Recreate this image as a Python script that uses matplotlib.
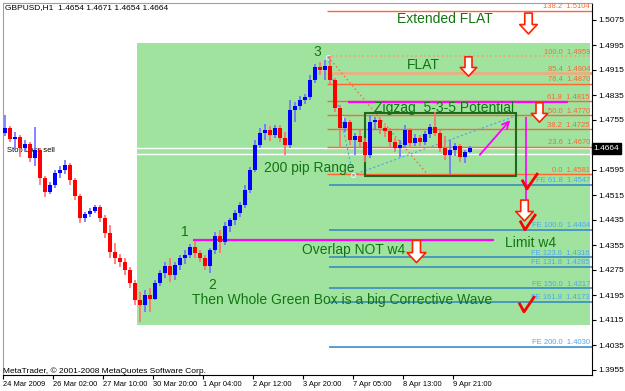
"""
GBPUSD H1 - wave count sketch (MetaTrader style screenshot)
"""

import numpy as np
import matplotlib
matplotlib.use("Agg")
import matplotlib.pyplot as plt
from matplotlib.path import Path
from matplotlib.patches import Rectangle
from matplotlib.transforms import blended_transform_factory

# ── DATA: price bars (each slot ~3 hours) ──────────────────────────────────
first_open = 1.4713
closes = [1.4729, 1.4694, 1.4701, 1.4665, 1.4678, 1.4633, 1.4659, 1.4569, 1.4525, 1.4547,
          1.4585, 1.4595, 1.4611, 1.4563, 1.4512, 1.4441, 1.4454, 1.4464, 1.4477, 1.4441,
          1.4393, 1.4333, 1.4313, 1.4301, 1.4275, 1.4233, 1.4179, 1.4163, 1.4195, 1.4182,
          1.4233, 1.4265, 1.4288, 1.4259, 1.4291, 1.4313, 1.4323, 1.4349, 1.4329, 1.4313,
          1.4288, 1.4339, 1.4384, 1.4365, 1.4416, 1.4435, 1.4457, 1.4483, 1.4531, 1.4595,
          1.4675, 1.4713, 1.4723, 1.4707, 1.4729, 1.4697, 1.4675, 1.4787, 1.4800, 1.4819,
          1.4829, 1.4883, 1.4925, 1.4915, 1.4928, 1.4883, 1.4793, 1.4729, 1.4749, 1.4691,
          1.4704, 1.4685, 1.4643, 1.4749, 1.4755, 1.4729, 1.4720, 1.4685, 1.4665, 1.4675,
          1.4723, 1.4681, 1.4697, 1.4685, 1.4710, 1.4733, 1.4713, 1.4665, 1.4643, 1.4659,
          1.4672, 1.4637, 1.4653, 1.4664]
highs = [1.4771, 1.4736, 1.4717, 1.4707, 1.4691, 1.4685, 1.4733, 1.4665, 1.4576, 1.4557,
         1.4595, 1.4608, 1.4627, 1.4617, 1.4569, 1.4518, 1.4461, 1.4473, 1.4483, 1.4483,
         1.4451, 1.4419, 1.4361, 1.4326, 1.4313, 1.4285, 1.4243, 1.4205, 1.4211, 1.4217,
         1.4243, 1.4275, 1.4301, 1.4313, 1.4301, 1.4323, 1.4339, 1.4358, 1.4368, 1.4339,
         1.4323, 1.4345, 1.4397, 1.4403, 1.4429, 1.4441, 1.4467, 1.4493, 1.4547, 1.4605,
         1.4691, 1.4729, 1.4742, 1.4736, 1.4739, 1.4739, 1.4717, 1.4819, 1.4813, 1.4832,
         1.4838, 1.4899, 1.4934, 1.4941, 1.4947, 1.4959, 1.4889, 1.4803, 1.4761, 1.4755,
         1.4713, 1.4723, 1.4697, 1.4771, 1.4765, 1.4761, 1.4736, 1.4729, 1.4697, 1.4691,
         1.4739, 1.4729, 1.4710, 1.4707, 1.4720, 1.4742, 1.4781, 1.4723, 1.4704, 1.4691,
         1.4681, 1.4678, 1.4659, 1.4671]
lows = [1.4704, 1.4685, 1.4659, 1.4637, 1.4653, 1.4621, 1.4608, 1.4547, 1.4509, 1.4518,
        1.4537, 1.4569, 1.4582, 1.4547, 1.4499, 1.4425, 1.4429, 1.4445, 1.4457, 1.4429,
        1.4377, 1.4313, 1.4294, 1.4285, 1.4259, 1.4217, 1.4163, 1.4109, 1.4141, 1.4141,
        1.4179, 1.4224, 1.4249, 1.4237, 1.4243, 1.4275, 1.4294, 1.4313, 1.4313, 1.4301,
        1.4275, 1.4265, 1.4326, 1.4329, 1.4355, 1.4397, 1.4419, 1.4445, 1.4473, 1.4521,
        1.4589, 1.4665, 1.4691, 1.4688, 1.4697, 1.4685, 1.4643, 1.4665, 1.4749, 1.4787,
        1.4806, 1.4819, 1.4873, 1.4899, 1.4883, 1.4870, 1.4781, 1.4665, 1.4717, 1.4675,
        1.4643, 1.4665, 1.4621, 1.4633, 1.4723, 1.4710, 1.4701, 1.4665, 1.4653, 1.4637,
        1.4665, 1.4665, 1.4672, 1.4672, 1.4675, 1.4697, 1.4704, 1.4653, 1.4627, 1.4581,
        1.4640, 1.4621, 1.4617, 1.4650]

time_labels = ["24 Mar 2009", "26 Mar 02:00", "27 Mar 10:00", "30 Mar 20:00",
               "1 Apr 04:00", "2 Apr 12:00", "3 Apr 20:00", "7 Apr 05:00",
               "8 Apr 13:00", "9 Apr 21:00"]
price_ticks = [1.3955, 1.4035, 1.4115, 1.4195, 1.4275, 1.4355, 1.4435, 1.4515,
               1.4595, 1.4675, 1.4755, 1.4835, 1.4915, 1.4995, 1.5075]

# Fibonacci retracement (wave 3 top -> low) and expansion levels
fib_levels = ["138.2", "100.0", "85.4", "76.4", "61.8", "50.0", "38.2", "23.6", "0.0"]
fib_prices = [1.5104, 1.4959, 1.4904, 1.4870, 1.4815, 1.4770, 1.4725, 1.4670, 1.4581]
fe_levels = ["61.8", "100.0", "123.6", "131.8", "150.0", "161.8", "200.0"]
fe_prices = [1.4547, 1.4404, 1.4316, 1.4285, 1.4217, 1.4173, 1.4030]

bid = 1.4664
stop_loss = 1.4646
overlap_w1 = 1.4371       # wave 1 high (magenta)
zigzag_top = 1.4814       # magenta line near 61.8
# ───────────────────────────────────────────────────────────────────────────

plt.rcParams.update({
    "font.family": "Liberation Sans",
    "font.size": 6,
    "axes.linewidth": 0.8,
})

GREEN_TXT = "#127512"
FIB_C = "#ff6633"
FE_C = "#2f84c4"
FE_TXT = "#4ea6f5"

fig = plt.figure(figsize=(6.25, 3.91), dpi=100)
ax = fig.add_axes([3 / 625, 16 / 391, 589 / 625, 372 / 391])
ax.set_xlim(-0.4, 117.4)
ax.set_ylim(1.3939, 1.51294)

# green "corrective" box
ax.add_patch(Rectangle((26.4, 1.4099), 117.0 - 26.4, 1.5001 - 1.4099,
                       facecolor="#9fe39f", edgecolor="none", zorder=0.5))

# bid / stop lines
ax.axhline(bid, color="white", lw=1.0, zorder=1)
ax.axhline(stop_loss, color="white", lw=1.0, zorder=1)

# fib retracement
fib_styles = [("-", 1.0, FIB_C), (":", 1.2, "#f0a070"), ("-", 2.0, "#e8b080"),
              ("-", 1.0, FIB_C), ("-", 1.0, FIB_C), ("-", 1.0, FIB_C),
              ("-", 1.0, FIB_C), ("-", 1.0, FIB_C), ("-", 1.0, FIB_C)]
for lvl, p, (ls, lw, c) in zip(fib_levels, fib_prices, fib_styles):
    ax.hlines(p, 64.4, 117.4, colors=c, linestyles=ls, lw=lw, zorder=2)
    ax.text(117.0, p + 0.0002, f"{lvl}  {p:.4f}", color=FIB_C, fontsize=5.5,
            ha="right", va="bottom", zorder=6)

# fib expansion
for lvl, p in zip(fe_levels, fe_prices):
    ax.hlines(p, 64.8, 117.4, colors=FE_C, lw=1.1, zorder=2)
    ax.text(117.0, p + 0.0002, f"FE {lvl}  {p:.4f}", color=FE_TXT, fontsize=5.5,
            ha="right", va="bottom", zorder=6)

# tool diagonals
ax.plot([64.6, 84.6], [1.4957, 1.4579], ls=(0, (1, 2)), color=FIB_C, lw=1, zorder=3)
ax.plot([64.6, 69.6, 101.6], [1.4957, 1.4579, 1.4765], ls=(0, (2, 2)),
        color="#5aa0e0", lw=0.8, zorder=3)
ax.plot([64.6, 67.3, 69.6], [1.4957, 1.4763, 1.4579], ls="none", marker="o",
        ms=3, mfc="none", mec="#e0f0ff", mew=0.8, zorder=3)

# magenta lines
ax.hlines(zigzag_top, 68.6, 112.6, colors="#ff00ff", lw=1.6, zorder=3)
ax.hlines(overlap_w1, 37.6, 97.8, colors="#ff00ff", lw=1.6, zorder=3)
ax.vlines(104.2, 1.4457, 1.4765, colors="#ff00ff", lw=1.2, zorder=3)
ax.annotate("", xy=(101.4, 1.4761), xytext=(94.6, 1.4637),
            arrowprops=dict(arrowstyle="->", color="#ff00ff", lw=1.3,
                            mutation_scale=12), zorder=3)

# zigzag box
ax.add_patch(Rectangle((72.0, 1.4576), 102.2 - 72.0, 1.4777 - 1.4576,
                       facecolor="none", edgecolor="#1d6a1d", lw=1.5, zorder=3))

ax.text(0.4, 1.4659, "Stop Loss sell", fontsize=5.5, color="black", va="center",
        zorder=3)

# candles
closes = np.array(closes)
opens = np.r_[first_open, closes[:-1]]
x = np.arange(len(closes))
up = closes >= opens
body_c = np.where(up, "#0000ff", "#ff0000")
wick_c = np.where(up, "#7070ff", "#ff7070")
ax.vlines(x, lows, highs, colors=wick_c, lw=1.2, zorder=4)
ax.bar(x, np.maximum(np.abs(closes - opens), 0.0005), bottom=np.minimum(opens, closes),
       width=0.95, color=body_c, lw=0, zorder=5)

# red outline arrows and check marks
arrow = Path([(-0.18, 0.5), (0.18, 0.5), (0.18, -0.05), (0.42, -0.05), (0.0, -0.5),
              (-0.42, -0.05), (-0.18, -0.05), (-0.18, 0.5)],
             [Path.MOVETO] + [Path.LINETO] * 6 + [Path.CLOSEPOLY])
for ax_x, ax_y, ms in [(104.6, 1.5065, 15), (92.6, 1.4928, 14), (106.8, 1.4781, 14),
                       (103.8, 1.4467, 15), (82.2, 1.4335, 16)]:
    ax.plot(ax_x, ax_y, marker=arrow, ms=ms, mfc="white", mec="#ff2000", mew=1.2,
            zorder=7)

check = Path([(-0.45, 0.05), (-0.15, -0.5), (0.5, 0.45)],
             [Path.MOVETO, Path.LINETO, Path.LINETO])
for cx, cy in [(104.8, 1.4562), (104.4, 1.4433), (104.2, 1.4170)]:
    ax.plot(cx, cy, marker=check, ms=12, mfc="none", mec="#ff0000", mew=2.0, zorder=7)

# wave labels and notes
notes = [("Extended FLAT", 88.0, 1.5078), ("FLAT", 83.6, 1.4931),
         ("Zigzag  5-3-5 Potential", 87.9, 1.4793), ("200 pip Range", 60.8, 1.4601),
         ("3", 62.4, 1.4973), ("1", 36.0, 1.4397), ("2", 41.4, 1.4227),
         ("Overlap NOT w4", 69.8, 1.4339), ("Limit w4", 105.2, 1.4361),
         ("Then Whole Green Box is a big Corrective Wave", 67.5, 1.4179)]
for txt, tx, ty in notes:
    ax.text(tx, ty, txt, color=GREEN_TXT, fontsize=10, ha="center", va="center",
            zorder=8)

# axes / ticks, MetaTrader style
ax.yaxis.tick_right()
ax.set_yticks(price_ticks)
# the 1.4675 label sits under the bid box
ax.set_yticklabels(["" if abs(p - 1.4675) < 1e-6 else f"{p:.4f}" for p in price_ticks])
ax.set_xticks(np.arange(len(time_labels)) * 10 - 0.4)
ax.set_xticklabels(time_labels, ha="left")
ax.tick_params(axis="both", length=3, width=0.8, pad=1.5, labelsize=6)
ax.tick_params(axis="x", labelsize=5.4)
for s in ("left", "top"):
    ax.spines[s].set_color("#a0a0a0")

tr = blended_transform_factory(ax.transAxes, ax.transData)
ax.text(1.003, bid, "1.4664", transform=tr, color="white", fontsize=6, va="center",
        ha="left", clip_on=False, zorder=9,
        bbox=dict(boxstyle="square,pad=0.2", fc="black", ec="black"))

fig.text(5 / 625, 1 - 8 / 391, "GBPUSD,H1  1.4654 1.4671 1.4654 1.4664", fontsize=6,
         va="center")
fig.text(3 / 625, 1 - 371 / 391, "MetaTrader, © 2001-2008 MetaQuotes Software Corp.",
         fontsize=6, va="center")

fig.savefig("out.png", dpi=100)
